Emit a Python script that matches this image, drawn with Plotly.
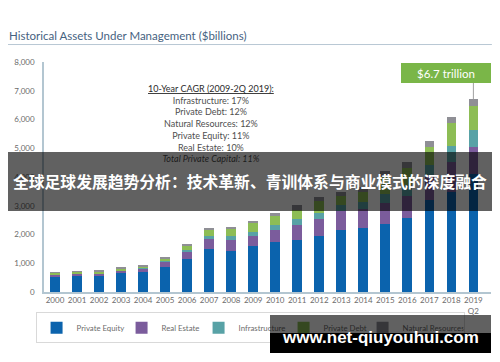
import plotly.graph_objects as go

years = ["2000", "2001", "2002", "2003", "2004", "2005", "2006", "2007", "2008", "2009",
         "2010", "2011", "2012", "2013", "2014", "2015", "2016", "2017", "2018", "2019 Q2"]
tick_labels = ["2000", "2001", "2002", "2003", "2004", "2005", "2006", "2007", "2008", "2009",
               "2010", "2011", "2012", "2013", "2014", "2015", "2016", "2017", "2018", "2019<br>Q2"]

private_equity = [555, 580, 565, 670, 700, 870, 1160, 1480, 1425, 1585,
                  1725, 1795, 1955, 2150, 2230, 2370, 2580, 3190, 3480, 4120]
real_estate = [60, 65, 80, 80, 110, 190, 265, 380, 380, 370,
               440, 545, 600, 660, 650, 720, 760, 870, 1050, 940]
infrastructure = [10, 10, 15, 15, 20, 25, 45, 95, 140, 140,
                  160, 210, 210, 230, 260, 330, 380, 350, 560, 590]
private_debt = [45, 50, 65, 55, 70, 90, 150, 195, 230, 290,
                325, 290, 400, 300, 330, 580, 600, 640, 780, 810]
natural_resources = [20, 25, 25, 30, 30, 30, 45, 70, 80, 70,
                     95, 175, 125, 140, 180, 200, 200, 210, 230, 245]

# name, values, colour, legend entry width (px)
series = [
    ("Private Equity", private_equity, "#0b63ad", 40),
    ("Real Estate", real_estate, "#7b5c9c", 32),
    ("Infrastructure", infrastructure, "#58a2a6", 40),
    ("Private Debt", private_debt, "#8dbd55", 34),
    ("Natural Resources", natural_resources, "#8f8f95", 56),
]

cagr_lines = ["Infrastructure: 17%", "Private Debt: 12%", "Natural Resources: 12%",
              "Private Equity: 11%", "Real Estate: 10%"]
cagr_title = "10-Year CAGR (2009-2Q 2019):"
cagr_total = "Total Private Capital: 11%"
callout = "$6.7 trillion"
title_text = "Historical Assets Under Management ($billions)"
banner_text = "全球足球发展趋势分析：技术革新、青训体系与商业模式的深度融合"
watermark = "www.net-qiuyouhui.com"

totals = [sum(v) for v in zip(private_equity, real_estate, infrastructure,
                              private_debt, natural_resources)]

fig = go.Figure()
for name, vals, color, lw in series:
    fig.add_trace(go.Bar(x=years, y=vals, name=name, marker_color=color,
                         marker_line_width=0, legendwidth=lw))

FONT = "Lato, 'Open Sans', sans-serif"

fig.update_layout(
    width=500, height=362,
    barmode="stack", bargap=0.56,
    plot_bgcolor="white", paper_bgcolor="white",
    margin=dict(l=44, r=9, t=62, b=70, autoexpand=False),
    font=dict(family=FONT, size=8, color="#6b6b6b"),
    title=dict(text=title_text, xref="container", x=0.018, xanchor="left",
               yref="container", y=0.9, yanchor="middle",
               font=dict(family=FONT, size=11.5, color="#46627f")),
    showlegend=True,
    legend=dict(orientation="h", x=0.461, xanchor="center", y=-0.088, yanchor="top",
                bordercolor="#d9d9d9", borderwidth=1, font=dict(size=7.8, color="#6b6b6b"),
                traceorder="normal", itemwidth=30, tracegroupgap=0),
    xaxis=dict(type="category", range=[-0.5, 19.8], tickvals=years, ticktext=tick_labels,
               showline=True, linecolor="#b3c6d1", linewidth=1.5, showgrid=False,
               ticks="", tickfont=dict(size=8, color="#6b6b6b"), fixedrange=True,
               automargin=False),
    yaxis=dict(range=[0, 8000], dtick=1000, tickformat=",", showline=True,
               linecolor="#b3c6d1", linewidth=1.5, showgrid=False, zeroline=False,
               ticks="", ticklabelstandoff=6, tickfont=dict(size=8, color="#6b6b6b"),
               fixedrange=True, automargin=False),
)

# title underline
fig.add_shape(type="line", xref="paper", yref="paper", x0=-0.0805, x1=1.002,
              y0=1.076, y1=1.076, line=dict(color="#b8c8d4", width=1))

# connector from callout to last bar
fig.add_shape(type="line", xref="x", yref="y", x0=years[-1], x1=years[-1],
              y0=totals[-1], y1=7290, line=dict(color="#a0a0a0", width=1))

annotations = []
cagr_text = ("<span style='color:#2b2b2b'><u>" + cagr_title + "</u></span><br>"
             + "<br>".join(cagr_lines) + "<br><i>" + cagr_total + "</i>")
annotations.append(dict(xref="paper", yref="paper", x=0.374, y=0.734,
                        xanchor="center", yanchor="middle", showarrow=False,
                        text=cagr_text, align="center",
                        font=dict(family=FONT, size=9, color="#4f4f4f")))
annotations.append(dict(xref="paper", yref="paper", x=0.8993, y=0.954,
                        xanchor="center", yanchor="middle", showarrow=False,
                        text=callout, bgcolor="#7ab648", width=90, height=20,
                        borderpad=0, borderwidth=0,
                        font=dict(family=FONT, size=11.5, color="white")))
# overlay banner
annotations.append(dict(xref="paper", yref="paper", x=0.4609, y=0.479,
                        xanchor="center", yanchor="middle", showarrow=False,
                        text="<b>" + banner_text + "</b>", bgcolor="rgba(0,0,0,0.62)",
                        width=484, height=59, borderpad=0, borderwidth=0,
                        font=dict(family="'Noto Sans CJK SC', sans-serif", size=15.8,
                                  color="white")))
# watermark boxes
annotations.append(dict(xref="paper", yref="paper", x=0.7528, y=-0.139,
                        xanchor="center", yanchor="middle", showarrow=False,
                        text=" ", bgcolor="rgba(0,0,0,0.62)", width=221, height=18,
                        borderpad=0, borderwidth=0))
annotations.append(dict(xref="paper", yref="paper", x=0.7528, y=-0.2217,
                        xanchor="center", yanchor="middle", showarrow=False,
                        text=" ", bgcolor="black", width=221, height=20,
                        borderpad=0, borderwidth=0))
annotations.append(dict(xref="paper", yref="paper", x=0.7528, y=-0.1957,
                        xanchor="center", yanchor="middle", showarrow=False,
                        text="<b>" + watermark + "</b>",
                        font=dict(family="'Liberation Sans', Arial, sans-serif", size=17,
                                  color="white")))
fig.update_layout(annotations=annotations)

fig.write_html("out.html", config={"displayModeBar": False},
               post_script="document.body.style.margin='0';document.body.style.padding='0';")
